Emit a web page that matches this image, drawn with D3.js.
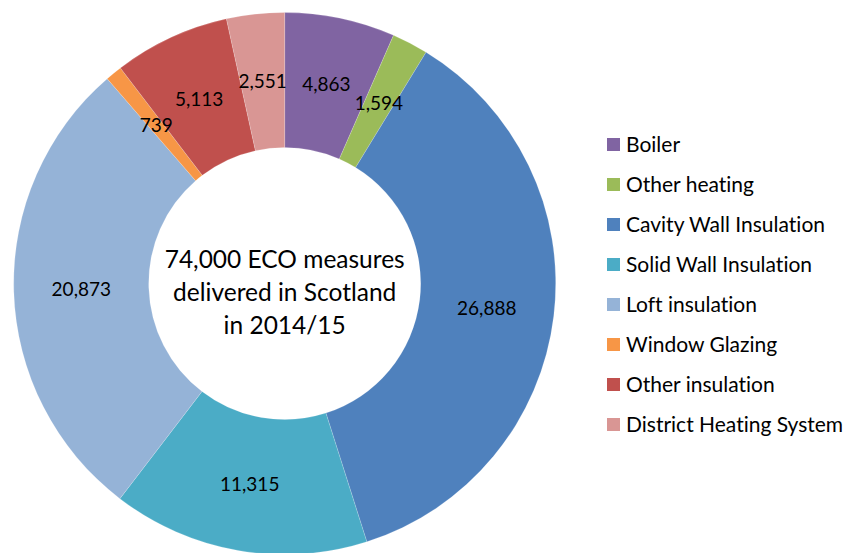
<!DOCTYPE html>
<html>
<head>
<meta charset="utf-8">
<script src="https://cdn.jsdelivr.net/npm/d3@7"></script>
<style>
  html, body { margin: 0; padding: 0; background: #fff; }
  svg { display: block; }
  text { font-family: Lato, "Open Sans", sans-serif; fill: #000; font-variant-ligatures: none; font-feature-settings: "liga" 0; }
</style>
</head>
<body>
<svg id="chart" width="848" height="553"></svg>
<script>
const categories = ["Boiler", "Other heating", "Cavity Wall Insulation", "Solid Wall Insulation",
  "Loft insulation", "Window Glazing", "Other insulation", "District Heating System"];
const values = [4863, 1594, 26888, 11315, 20873, 739, 5113, 2551];
const colors = ["#8064A2", "#9BBB59", "#4F81BD", "#4BACC6", "#95B3D7", "#F79646", "#C0504D", "#D99694"];
const centerLines = ["74,000 ECO measures", "delivered in Scotland", "in 2014/15"];

const W = 848, H = 553;
const cx = 284.7, cy = 283.5, R = 271, r = 136;

const svg = d3.select("#chart");
const data = categories.map((c, i) => ({ cat: c, value: values[i], color: colors[i] }));

const pie = d3.pie().value(d => d.value).sort(null).startAngle(0).endAngle(2 * Math.PI);
const arc = d3.arc().innerRadius(r).outerRadius(R);
const labelArc = d3.arc().innerRadius((R + r) / 2).outerRadius((R + r) / 2);
const arcs = pie(data);

const g = svg.append("g").attr("transform", `translate(${cx},${cy})`);
g.selectAll("path.slice").data(arcs).enter().append("path")
  .attr("class", "slice")
  .attr("d", arc)
  .attr("fill", d => d.data.color)
  .attr("stroke", "rgba(255,255,255,0.35)")
  .attr("stroke-width", 0.5);

const fmt = d3.format(",");
g.selectAll("text.lbl").data(arcs).enter().append("text")
  .attr("class", "lbl")
  .attr("transform", d => `translate(${labelArc.centroid(d)})`)
  .attr("text-anchor", "middle")
  .attr("dy", "0.36em")
  .style("font-size", "19px")
  .text(d => fmt(d.data.value));

// center text
g.selectAll("text.ctr").data(centerLines).enter().append("text")
  .attr("class", "ctr")
  .attr("x", 0)
  .attr("y", (d, i) => 17.5 + (i - 1) * 33.3)
  .attr("text-anchor", "middle")
  .style("font-size", "24.5px")
  .text(d => d);

// legend
const leg = svg.append("g").attr("transform", "translate(607,144.5)");
const items = leg.selectAll("g").data(data).enter().append("g")
  .attr("transform", (d, i) => `translate(0,${i * 40})`);
items.append("rect").attr("x", 0).attr("y", -6.5).attr("width", 13).attr("height", 13)
  .attr("fill", d => d.color);
items.append("text").attr("x", 19).attr("y", 7.4)
  .style("font-size", "21px")
  .text(d => d.cat);
</script>
</body>
</html>
